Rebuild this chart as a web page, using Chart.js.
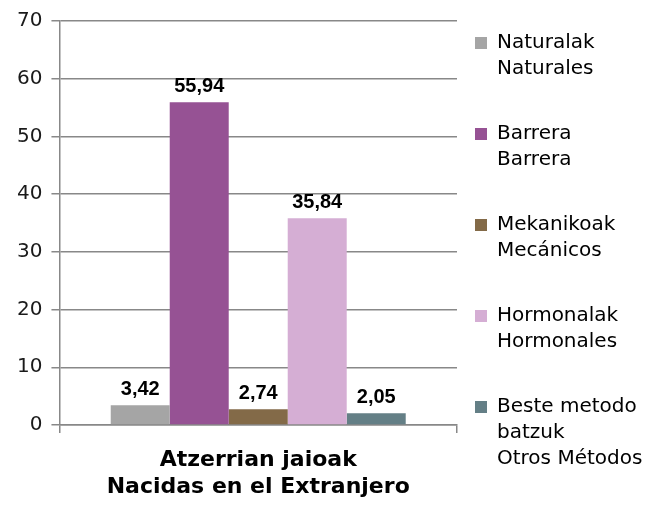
<!DOCTYPE html>
<html>
<head>
<meta charset="utf-8">
<script src="https://cdn.jsdelivr.net/npm/chart.js@4"></script>
<style>
  html, body { margin: 0; padding: 0; background: #fff; }
  #wrap { width: 665px; height: 509px; }
</style>
</head>
<body>
<div id="wrap"><canvas id="myChart" width="665" height="509"></canvas></div>
<script>
const categories = [['Atzerrian jaioak', 'Nacidas en el Extranjero']];
const seriesNames = [
  ['Naturalak', 'Naturales'],
  ['Barrera', 'Barrera'],
  ['Mekanikoak', 'Mecánicos'],
  ['Hormonalak', 'Hormonales'],
  ['Beste metodo', 'batzuk', 'Otros Métodos']
];
const seriesValues = [3.42, 55.94, 2.74, 35.84, 2.05];
const seriesColors = ['#a5a5a5', '#965294', '#836a48', '#d5aed4', '#647f86'];
const yTicks = [0, 10, 20, 30, 40, 50, 60, 70];

// value labels above each bar, comma decimals
const barLabels = {
  id: 'barLabels',
  afterDatasetsDraw(chart) {
    const c = chart.ctx;
    c.save();
    c.font = 'bold 20px "Liberation Sans", Arial, sans-serif';
    c.fillStyle = '#000';
    c.textAlign = 'center';
    c.textBaseline = 'middle';
    chart.data.datasets.forEach((ds, i) => {
      const bar = chart.getDatasetMeta(i).data[0];
      const txt = ds.data[0].toFixed(2).replace('.', ',');
      c.fillText(txt, bar.x, bar.y - 16);
    });
    c.restore();
  }
};

// legend: fixed width, and pulled up/left a bit so it sits like the original
const legendPlace = {
  id: 'legendPlace',
  beforeUpdate(chart) {
    const lg = chart.legend;
    if (lg && !lg._fixed) {
      const fit = lg.fit.bind(lg);
      lg.fit = function () { fit(); this.width = 208; };
      lg._fixed = true;
    }
  },
  afterLayout(chart) {
    const lg = chart.legend;
    lg.left -= 21;
    lg.top = -6;
  }
};

const ctx = document.getElementById('myChart');

let myChart = new Chart(ctx, {
  type: 'bar',
  data: {
    labels: categories,
    datasets: seriesNames.map((name, i) => ({
      label: name,
      data: [seriesValues[i]],
      backgroundColor: seriesColors[i],
      borderWidth: 0,
      categoryPercentage: 0.742,
      barPercentage: 1
    }))
  },
  options: {
    responsive: false,
    animation: false,
    layout: {
      padding: { left: 8, top: 21, right: 0, bottom: 0 }
    },
    plugins: {
      tooltip: { enabled: false },
      legend: {
        position: 'right',
        align: 'start',
        labels: {
          boxWidth: 12,
          boxHeight: 12,
          padding: 39,
          color: '#1a1a1a',
          font: { family: '"DejaVu Sans", sans-serif', size: 20, lineHeight: 1.3 },
          generateLabels(chart) {
            return chart.data.datasets.map((ds, i) => ({
              text: ds.label,
              fillStyle: ds.backgroundColor,
              strokeStyle: ds.backgroundColor,
              lineWidth: 0,
              datasetIndex: i
            }));
          }
        }
      }
    },
    scales: {
      x: {
        afterFit(axis) {
          axis.height = 84;
        },
        grid: {
          offset: true,
          drawOnChartArea: false,
          tickLength: 8,
          color: '#888',
          lineWidth: 1.5
        },
        border: { color: '#888', width: 1.5 },
        ticks: {
          color: '#000',
          padding: 14,
          font: { family: '"DejaVu Sans", sans-serif', size: 22, weight: 'bold', lineHeight: 1.23 }
        }
      },
      y: {
        min: 0,
        max: 70,
        afterBuildTicks(axis) {
          axis.ticks = yTicks.map(v => ({ value: v }));
        },
        grid: {
          color: '#888',
          lineWidth: 1.5,
          tickLength: 8
        },
        border: { color: '#888', width: 1.5 },
        ticks: {
          color: '#1a1a1a',
          padding: 9,
          font: { family: '"DejaVu Sans", sans-serif', size: 20 }
        }
      }
    }
  },
  plugins: [barLabels, legendPlace]
});
</script>
</body>
</html>
